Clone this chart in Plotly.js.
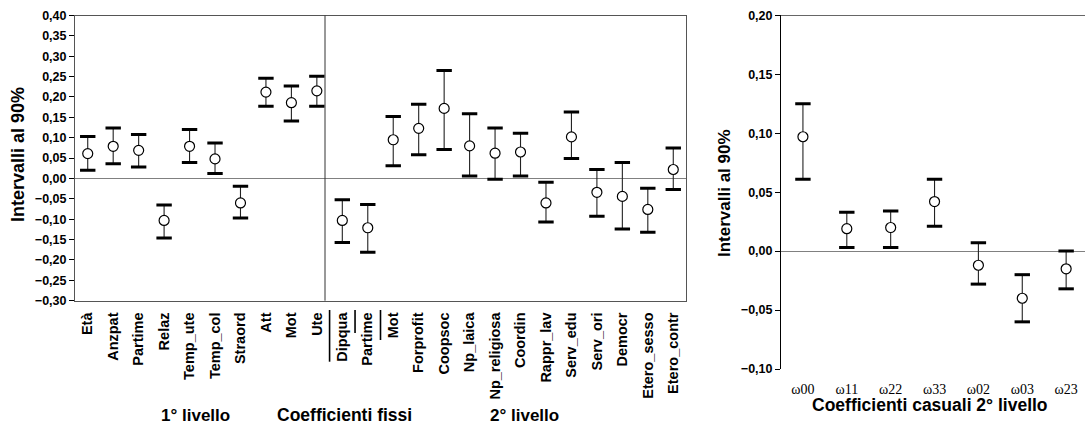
<!DOCTYPE html>
<html>
<head>
<meta charset="utf-8">
<script src="https://cdn.plot.ly/plotly-3.0.1.min.js"></script>
<style>html,body{margin:0;padding:0;background:#fff;}#chart{width:1085px;height:428px;}</style>
</head>
<body>
<div id="chart"></div>
<script>
// ---- Fixed coefficients (1° and 2° livello) ----
const fixedLabels = ['Età','Anzpat','Partime','Relaz','Temp_ute','Temp_col','Straord','Att','Mot','Ute',
  'Dipqua','Partime','Mot','Forprofit','Coopsoc','Np_laica','Np_religiosa','Coordin','Rappr_lav','Serv_edu',
  'Serv_ori','Democr','Etero_sesso','Etero_contr'];
const fixedEst = [0.061,0.079,0.069,-0.103,0.079,0.048,-0.060,0.212,0.186,0.215,
  -0.103,-0.121,0.095,0.123,0.172,0.080,0.062,0.065,-0.060,0.102,-0.034,-0.044,-0.076,0.022];
const fixedHi = [0.103,0.124,0.108,-0.065,0.120,0.087,-0.019,0.246,0.227,0.251,
  -0.052,-0.064,0.152,0.182,0.265,0.159,0.124,0.111,-0.009,0.163,0.022,0.039,-0.024,0.075];
const fixedLo = [0.020,0.036,0.028,-0.146,0.039,0.012,-0.097,0.177,0.141,0.177,
  -0.157,-0.181,0.031,0.058,0.071,0.006,-0.002,0.006,-0.107,0.049,-0.093,-0.124,-0.132,-0.027];
const level1Count = 10;
const overlinedLevel2 = [10, 11, 12]; // Dipqua, Partime, Mot (means)

// ---- Random coefficients (2° livello) ----
const randLabels = ['ω00','ω11','ω22','ω33','ω02','ω03','ω23'];
const randEst = [0.097,0.019,0.020,0.042,-0.012,-0.040,-0.015];
const randHi = [0.125,0.033,0.034,0.061,0.007,-0.020,0.000];
const randLo = [0.061,0.003,0.003,0.021,-0.028,-0.060,-0.032];

const SANS = 'Liberation Sans, Arial, sans-serif';
const SERIF = 'Liberation Serif, Times New Roman, serif';

function ciTraces(est, hi, lo, xa, ya) {
  const x = est.map((_, i) => i);
  const stem = {
    x: x, y: est, xaxis: xa, yaxis: ya, type: 'scatter', mode: 'markers',
    marker: {symbol: 'circle', size: 10, color: '#ffffff', line: {color: '#000', width: 1.2}},
    error_y: {type: 'data', symmetric: false,
      array: hi.map((h, i) => h - est[i]), arrayminus: lo.map((l, i) => est[i] - l),
      width: 0, thickness: 1.1, color: '#222'},
    hoverinfo: 'skip', showlegend: false
  };
  const caps = {
    x: x.concat(x), y: hi.concat(lo), xaxis: xa, yaxis: ya, type: 'scatter', mode: 'markers',
    marker: {symbol: 'line-ew', size: 11, line: {color: '#000', width: 3}},
    hoverinfo: 'skip', showlegend: false
  };
  return [stem, caps];
}

const data = [
  ...ciTraces(fixedEst, fixedHi, fixedLo, 'x', 'y'),
  ...ciTraces(randEst, randHi, randLo, 'x2', 'y2')
];

const W = 1085, H = 428;
const px = v => v / W, py = v => 1 - v / H;

const shapes = [
  {type: 'line', xref: 'x', yref: 'y domain', x0: level1Count - 0.68, x1: level1Count - 0.68, y0: 0, y1: 1,
   line: {color: '#333', width: 1}},
  {type: 'line', xref: 'x2 domain', yref: 'y2', x0: 0, x1: 1, y0: 0.20, y1: 0.20,
   line: {color: '#000', width: 1}}
];
const overLen = [361.7, 333, 340];
overlinedLevel2.forEach((idx, k) => {
  shapes.push({type: 'line', xref: 'x', yref: 'paper', x0: idx - 0.5, x1: idx - 0.5,
    y0: py(310), y1: py(overLen[k]), line: {color: '#000', width: 1.6}});
});

const layout = {
  width: W, height: H,
  margin: {l: 0, r: 0, t: 0, b: 0},
  paper_bgcolor: '#fff', plot_bgcolor: 'rgba(0,0,0,0)',
  separators: ',.',
  showlegend: false,
  font: {family: SANS, color: '#000'},
  xaxis: {
    domain: [px(75), px(686)], anchor: 'y',
    range: [-0.5, fixedLabels.length - 0.5],
    tickmode: 'array', tickvals: fixedLabels.map((_, i) => i), ticktext: fixedLabels,
    tickangle: -90, ticks: '', ticklabelstandoff: 5,
    tickfont: {family: SANS, size: 14.5, weight: 'bold', color: '#000'},
    showgrid: false, zeroline: false,
    showline: true, mirror: true, linecolor: '#555', linewidth: 1
  },
  yaxis: {
    domain: [py(300.7), py(15.5)], anchor: 'x',
    range: [-0.30, 0.40], dtick: 0.05, tick0: 0, tickformat: '.2f',
    ticks: 'outside', ticklen: 5, tickcolor: '#000', tickwidth: 1,
    tickfont: {family: SANS, size: 12.5, weight: 'bold', color: '#000'},
    showgrid: false, zeroline: true, zerolinecolor: '#808080', zerolinewidth: 1,
    showline: true, mirror: true, linecolor: '#555', linewidth: 1
  },
  xaxis2: {
    domain: [px(781), 1], anchor: 'y2',
    range: [-0.5, 6.43],
    tickmode: 'array', tickvals: randLabels.map((_, i) => i), ticktext: randLabels,
    ticks: '', ticklabelstandoff: 10,
    tickfont: {family: SERIF, size: 14, color: '#000'},
    showgrid: false, zeroline: false, showline: false
  },
  yaxis2: {
    domain: [py(369), py(15.3)], anchor: 'x2',
    range: [-0.10, 0.20], dtick: 0.05, tick0: 0, tickformat: '.2f',
    ticks: 'outside', ticklen: 5, tickcolor: '#000', tickwidth: 1,
    tickfont: {family: SANS, size: 12.5, weight: 'bold', color: '#000'},
    showgrid: false, zeroline: true, zerolinecolor: '#808080', zerolinewidth: 1,
    showline: true, linecolor: '#000', linewidth: 1
  },
  shapes: shapes,
  annotations: [
    {text: 'Intervalli al 90%', xref: 'paper', yref: 'paper', x: px(18), y: py(155), textangle: -90,
     showarrow: false, xanchor: 'center', yanchor: 'middle', font: {family: SANS, size: 18, weight: 'bold'}},
    {text: 'Intervalli al 90%', xref: 'paper', yref: 'paper', x: px(724), y: py(193), textangle: -90,
     showarrow: false, xanchor: 'center', yanchor: 'middle', font: {family: SANS, size: 17, weight: 'bold'}},
    {text: '1° livello', xref: 'paper', yref: 'paper', x: px(195), y: py(415),
     showarrow: false, xanchor: 'center', yanchor: 'middle', font: {family: SANS, size: 17, weight: 'bold'}},
    {text: 'Coefficienti fissi', xref: 'paper', yref: 'paper', x: px(344), y: py(415),
     showarrow: false, xanchor: 'center', yanchor: 'middle', font: {family: SANS, size: 17.5, weight: 'bold'}},
    {text: '2° livello', xref: 'paper', yref: 'paper', x: px(524.5), y: py(415),
     showarrow: false, xanchor: 'center', yanchor: 'middle', font: {family: SANS, size: 17, weight: 'bold'}},
    {text: 'Coefficienti casuali 2° livello', xref: 'paper', yref: 'paper', x: px(930), y: py(405),
     showarrow: false, xanchor: 'center', yanchor: 'middle', font: {family: SANS, size: 17.5, weight: 'bold'}}
  ]
};

Plotly.newPlot('chart', data, layout, {staticPlot: true, displayModeBar: false});
</script>
</body>
</html>
